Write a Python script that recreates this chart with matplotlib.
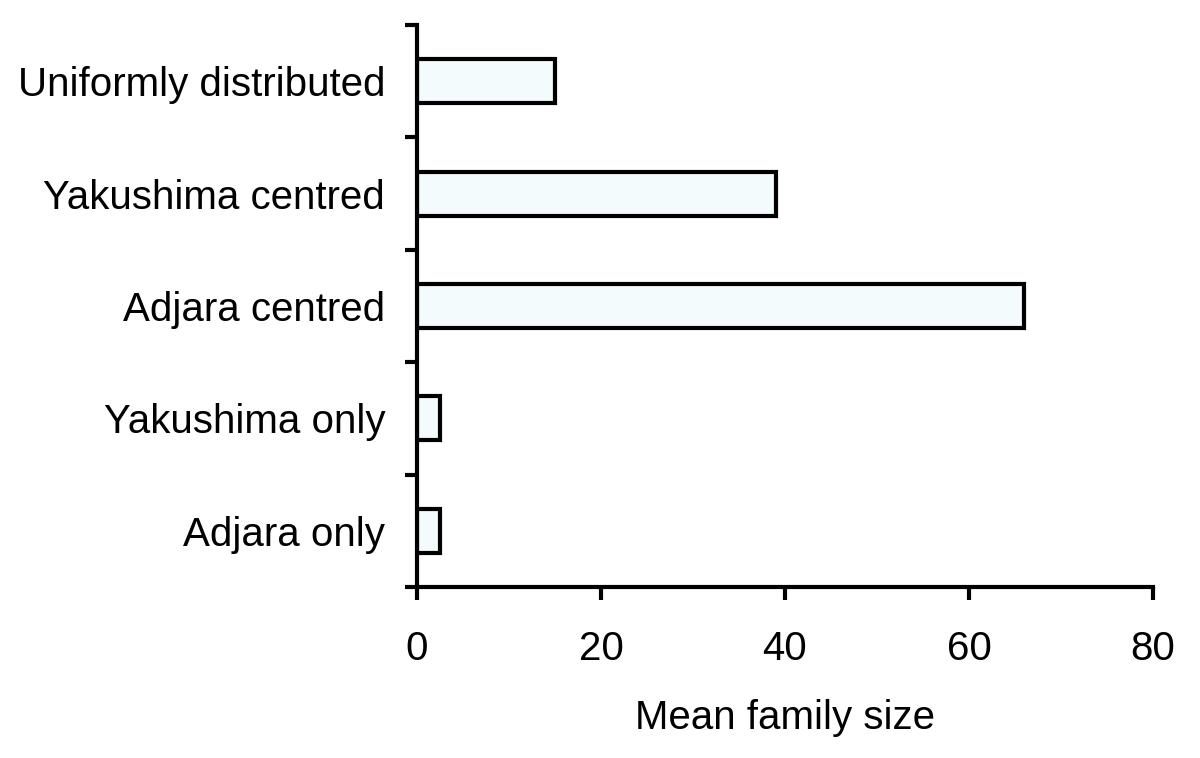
import numpy as np
import matplotlib
matplotlib.use("Agg")
import matplotlib.pyplot as plt

plt.rcParams['font.family'] = ['Liberation Sans', 'DejaVu Sans']

categories = ["Adjara only", "Yakushima only", "Adjara centred",
              "Yakushima centred", "Uniformly distributed"]
mean_family_size = [2.5, 2.5, 66, 39, 15]
x_ticks = [0, 20, 40, 60, 80]

fig = plt.figure(figsize=(12, 7.58), dpi=100)
ax = fig.add_axes([0.3475, 0.2256, 0.6133, 0.7414])

y = np.arange(len(categories))
ax.barh(y, mean_family_size, height=0.39, color="#f4fbfd",
        edgecolor="black", linewidth=3.0)

ax.set_xlim(0, 80)
ax.set_ylim(-0.5, len(categories) - 0.5)
ax.set_xticks(x_ticks)
ax.set_yticks(y)
ax.set_yticklabels(categories)
ax.set_yticks(np.arange(-0.5, len(categories)), minor=True)

for s in ["top", "right"]:
    ax.spines[s].set_visible(False)
for s in ["left", "bottom"]:
    ax.spines[s].set_linewidth(3.0)

ax.tick_params(axis="y", which="major", length=0, pad=23, labelsize=29)
ax.tick_params(axis="y", which="minor", length=9, width=3.0)
ax.tick_params(axis="x", length=9, width=3.0, pad=22, labelsize=29)

ax.set_xlabel("Mean family size", fontsize=29, labelpad=22)

fig.savefig("out.png", dpi=100)
